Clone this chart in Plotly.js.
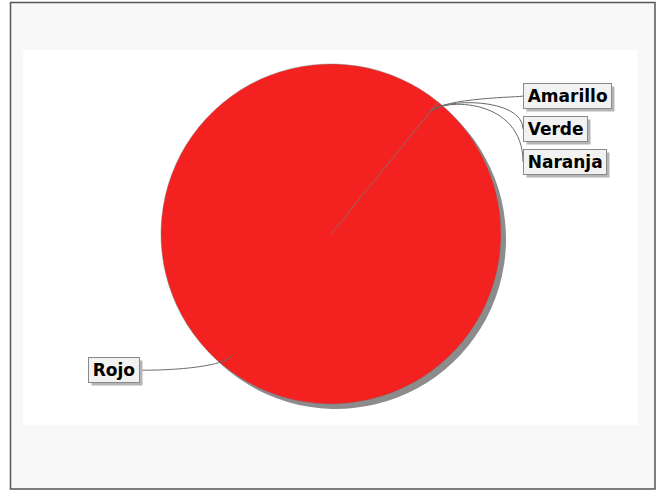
<!DOCTYPE html>
<html>
<head>
<meta charset="utf-8">
<script src="https://cdn.plot.ly/plotly-3.0.1.min.js"></script>
<style>html,body{margin:0;padding:0;background:#fff;}#chart{width:657px;height:491px;}</style>
</head>
<body>
<div id="chart"></div>
<script>
// ---- data ----
const categories = ["Amarillo", "Verde", "Naranja", "Rojo"];
const values = [0.1, 0.1, 0.1, 999.7];
const sliceColors = ["#f4f442", "#37c437", "#f4a020", "#f42121"];

// ---- layout helpers ----
const W = 657, H = 491;
const cx = 331, cy = 234, R = 170;
const startAngle = 39; // degrees clockwise from 12 o'clock
const px = x => x / W;
const py = y => 1 - y / H;

const total = values.reduce((a, b) => a + b, 0);
let acc = 0;
const midAngles = values.map(v => { const m = startAngle + (acc + v / 2) / total * 360; acc += v; return m; });

// label box anchors (left/right-middle of each box), in pixels
const labelPos = [[523, 96], [523, 129], [523, 162], [140, 370]];

const shapes = [];
shapes.push({type: 'rect', xref: 'paper', yref: 'paper', x0: px(10.5), x1: px(655), y0: py(489), y1: py(2.5),
  fillcolor: '#f8f8f8', line: {color: '#555555', width: 1.5}, layer: 'below'});
shapes.push({type: 'rect', xref: 'paper', yref: 'paper', x0: px(23), x1: px(638), y0: py(425), y1: py(50),
  fillcolor: '#ffffff', line: {width: 0}, layer: 'below'});

const annotations = [];
categories.forEach((c, i) => {
  const a = midAngles[i] * Math.PI / 180;
  const r0 = R * 0.92, re = R * 1.035;
  const sx = cx + r0 * Math.sin(a), sy = cy - r0 * Math.cos(a);
  const c1x = cx + re * Math.sin(a), c1y = cy - re * Math.cos(a);
  const [ex, ey] = labelPos[i];
  const dir = ex > cx ? 1 : -1;
  shapes.push({type: 'path', xref: 'paper', yref: 'paper',
    path: `M ${px(sx)},${py(sy)} C ${px(c1x)},${py(c1y)} ${px(ex)},${py(c1y)} ${px(ex)},${py(ey)}`,
    line: {color: '#6a6a6a', width: 1}});
  annotations.push({xref: 'paper', yref: 'paper', x: px(ex), y: py(ey), xanchor: dir > 0 ? 'left' : 'right', yanchor: 'middle',
    text: '<b>\u200A' + c + '\u200A</b>', showarrow: false, font: {family: 'DejaVu Sans', size: 17, color: '#000000'},
    bgcolor: '#f2f2f2', borderpad: 2, borderwidth: 1, bordercolor: '#8a8a8a'});
});

const domainFor = (dx, dy) => ({x: [px(cx - R + dx), px(cx + R + dx)], y: [py(cy + R + dy), py(cy - R + dy)]});

const shadow = {type: 'pie', labels: categories, values: values, sort: false, direction: 'clockwise',
  rotation: startAngle, marker: {colors: values.map(() => '#8c8c8c'), line: {width: 0}},
  textinfo: 'none', hoverinfo: 'skip', showlegend: false, domain: domainFor(5, 5)};
const pie = {type: 'pie', labels: categories, values: values, sort: false, direction: 'clockwise',
  rotation: startAngle, marker: {colors: sliceColors, line: {color: 'rgba(120,120,120,0.75)', width: 0.6}},
  textinfo: 'none', showlegend: false, domain: domainFor(0, 0)};

Plotly.newPlot('chart', [shadow, pie], {
  width: W, height: H, margin: {l: 0, r: 0, t: 0, b: 0},
  paper_bgcolor: '#ffffff', showlegend: false, shapes: shapes, annotations: annotations
}, {displayModeBar: false, staticPlot: true}).then(gd => {
  // drop shadows under the label boxes, sized from the rendered boxes
  const root = gd.getBoundingClientRect();
  const extra = [];
  gd.querySelectorAll('.annotation rect.bg').forEach(r => {
    const b = r.getBoundingClientRect();
    const x0 = b.left - root.left + 3, y0 = b.top - root.top + 3;
    extra.push({type: 'rect', xref: 'paper', yref: 'paper', layer: 'above',
      x0: px(x0), x1: px(x0 + b.width), y0: py(y0 + b.height), y1: py(y0),
      fillcolor: '#b5b5b5', line: {width: 0}});
  });
  Plotly.relayout(gd, {shapes: shapes.concat(extra)});
});
</script>
</body>
</html>
